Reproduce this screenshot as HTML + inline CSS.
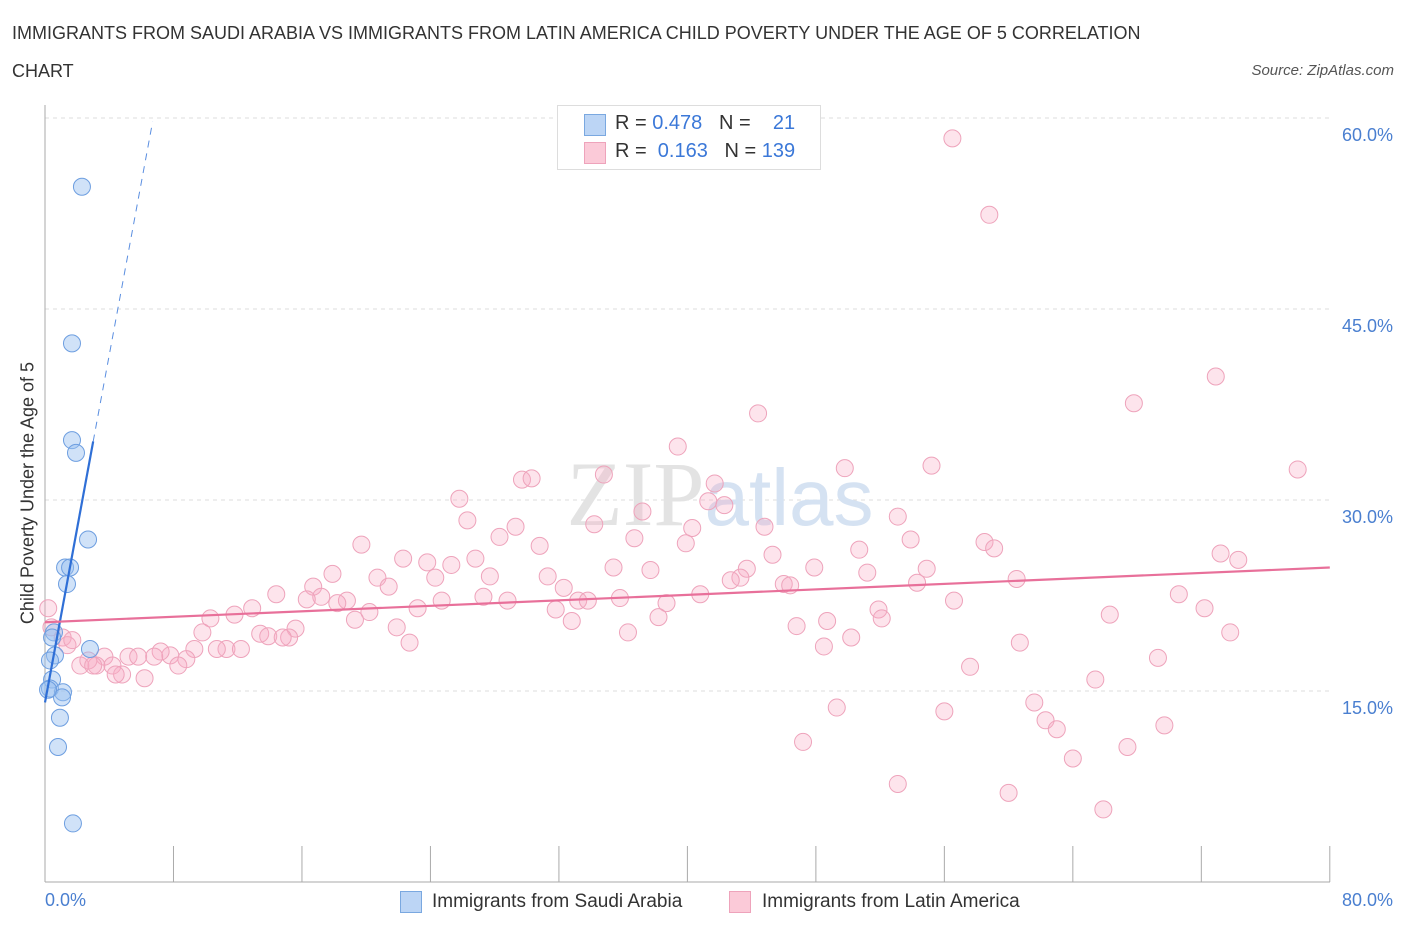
<!DOCTYPE html>
<html><head><meta charset="utf-8"><style>
body{margin:0;background:#fff;font-family:"Liberation Sans",sans-serif;}
#wrap{position:relative;width:1406px;height:930px;overflow:hidden;}
.t{position:absolute;white-space:nowrap;}
</style></head><body>
<div id="wrap">
<div class="t" style="left:12px;top:14px;font-size:18px;color:#333;line-height:38px;">IMMIGRANTS FROM SAUDI ARABIA VS IMMIGRANTS FROM LATIN AMERICA CHILD POVERTY UNDER THE AGE OF 5 CORRELATION<br>CHART</div>
<div class="t" style="right:12px;top:62px;font-size:15px;color:#555;font-style:italic;">Source: ZipAtlas.com</div>
<svg id="svg" width="1406" height="930" style="position:absolute;left:0;top:0;"></svg>
</div>
<script>
const xTicks=[0,8,16,24,32,40,48,56,64,72,80];
const yTicks=[15,30,45,60];
const yTickLabels=["15.0%","30.0%","45.0%","60.0%"];
const blueX=[2.30,1.68,1.68,1.93,2.68,1.25,1.56,1.37,0.56,0.44,0.62,0.31,2.80,0.44,0.31,1.12,1.06,0.93,0.81,1.74,0.19];
const blueY=[54.6,42.3,34.7,33.7,26.9,24.7,24.7,23.4,19.6,19.2,17.8,17.4,18.3,15.9,15.2,14.9,14.5,12.9,10.6,4.6,15.1];
const pinkX=[56.5,58.8,72.9,67.8,44.4,39.4,49.8,55.2,78.0,34.8,29.7,30.3,41.7,25.8,41.3,42.3,37.2,26.3,34.2,29.3,40.3,53.1,44.8,28.3,36.7,39.9,53.9,58.5,59.1,19.7,30.8,50.7,45.3,73.2,74.3,22.3,23.8,26.8,25.3,35.4,37.7,43.7,47.9,51.2,54.9,17.9,27.7,31.3,24.3,20.7,21.4,16.7,43.3,42.7,46.0,46.4,60.5,54.3,32.3,14.4,27.3,35.8,17.2,18.8,16.3,24.7,28.8,33.2,33.8,18.2,40.8,70.6,56.6,12.9,23.2,20.2,31.8,38.7,72.2,10.3,19.3,38.2,51.9,48.7,52.1,66.3,11.8,21.9,32.8,46.8,9.8,13.4,13.9,15.6,15.2,14.8,36.3,50.2,73.8,0.2,1.1,1.4,22.7,11.3,12.2,10.7,9.3,7.8,7.2,5.2,5.8,3.7,8.8,8.3,6.8,60.7,48.5,69.3,57.6,3.2,4.2,2.2,2.7,4.8,4.4,6.2,65.4,61.6,49.3,56.0,62.3,63.0,69.7,47.2,67.4,64.0,53.1,60.0,65.9,0.4,1.7,3.0];
const pinkY=[58.4,52.4,39.7,37.6,36.8,34.2,32.5,32.7,32.4,32.0,31.6,31.7,31.3,30.1,29.9,29.6,29.1,28.4,28.1,27.9,27.8,28.7,27.9,27.1,27.0,26.6,26.9,26.7,26.2,26.5,26.4,26.1,25.7,25.8,25.3,25.4,25.1,25.4,24.9,24.7,24.5,24.6,24.7,24.3,24.6,24.2,24.0,24.0,23.9,23.9,23.2,23.2,23.9,23.7,23.4,23.3,23.8,23.5,23.1,22.6,22.4,22.3,22.4,22.1,22.2,22.1,22.1,22.1,22.1,21.9,22.6,22.6,22.1,21.5,21.5,21.2,21.4,21.9,21.5,20.7,20.6,20.8,21.4,20.5,20.7,21.0,21.0,20.0,20.5,20.1,19.6,19.5,19.3,19.9,19.2,19.2,19.6,19.2,19.6,21.5,19.2,18.6,18.8,18.3,18.3,18.3,18.3,17.8,18.1,17.7,17.7,17.7,17.5,17.0,17.7,18.8,18.5,17.6,16.9,17.0,17.0,17.0,17.4,16.3,16.3,16.0,15.9,14.1,13.7,13.4,12.7,12.0,12.3,11.0,10.6,9.7,7.7,7.0,5.7,20.0,19.0,17.0];
const blueTrend=[[0,14.1],[3.0,34.6],[6.7,59.7]];
const pinkTrend=[[0,20.4],[80,24.7]];
const X=v=>45+v*16.06, Y=v=>882-v*12.733;
const ns="http://www.w3.org/2000/svg", svg=document.getElementById('svg');
function mk(tag,at,parent){const e=document.createElementNS(ns,tag);for(const k in at)e.setAttribute(k,at[k]);(parent||svg).appendChild(e);return e;}
yTicks.forEach((t,i)=>{
 const g=mk('line',{x1:45,x2:1330,y1:Y(t),y2:Y(t),stroke:'#ddd','stroke-dasharray':'4,4'});
 
 
 const l=mk('text',{x:1393,y:Y(t)+23,'text-anchor':'end','font-size':18,fill:'#4a7fd0'});l.textContent=yTickLabels[i];
 
 
});
const ax=mk('line',{x1:45,x2:45,y1:105,y2:882,stroke:'#aaa'});


const bx=mk('line',{x1:45,x2:1330,y1:882,y2:882,stroke:'#aaa'});


xTicks.forEach(t=>{const e=mk('line',{x1:X(t),x2:X(t),y1:846,y2:882,stroke:'#aaa'});
 
 });
const wm=mk('text',{x:720,y:525,'text-anchor':'middle','font-size':92,fill:'#e3e3e3','font-family':'Liberation Serif'});
wm.innerHTML='ZIP<tspan fill="#d5e2f2" font-family="Liberation Sans" font-size="80">atlas</tspan>';


pinkX.forEach((x,i)=>{const c=mk('circle',{cx:X(x),cy:Y(pinkY[i]),r:8.5,fill:'rgba(248,170,195,0.32)',stroke:'#eea3bb','stroke-width':1});
 
 });
blueX.forEach((x,i)=>{const c=mk('circle',{cx:X(x),cy:Y(blueY[i]),r:8.5,fill:'rgba(150,190,240,0.45)',stroke:'#6d9ee0','stroke-width':1});
 
 });
const bl=mk('line',{x1:X(blueTrend[0][0]),y1:Y(blueTrend[0][1]),x2:X(blueTrend[1][0]),y2:Y(blueTrend[1][1]),stroke:'#2f6fd6','stroke-width':2.2});


const bd=mk('line',{x1:X(blueTrend[1][0]),y1:Y(blueTrend[1][1]),x2:X(blueTrend[2][0]),y2:Y(blueTrend[2][1]),stroke:'#5a8ee0','stroke-width':1,'stroke-dasharray':'7,6'});


const pl=mk('line',{x1:X(pinkTrend[0][0]),y1:Y(pinkTrend[0][1]),x2:X(pinkTrend[1][0]),y2:Y(pinkTrend[1][1]),stroke:'#e8709a','stroke-width':2.2});


</script>
<div class="t" style="left:28px;top:493px;font-size:18px;color:#333;transform:translate(-50%,-50%) rotate(-90deg);">Child Poverty Under the Age of 5</div>
<div class="t" style="left:45px;top:890px;font-size:18px;color:#4a7fd0;">0.0%</div>
<div class="t" style="right:13px;top:890px;font-size:18px;color:#4a7fd0;">80.0%</div>
<div style="position:absolute;left:557px;top:105px;width:262px;height:63px;border:1px solid #ddd;background:#fff;font-size:20px;color:#333;">
 <div style="position:absolute;left:26px;top:8px;width:20px;height:20px;background:#bcd5f5;border:1px solid #7aa8e0;"></div>
 <div class="t" style="left:57px;top:6px;">R = <span style="color:#3b78d8">0.478</span>&nbsp;&nbsp;&nbsp;N = &nbsp;&nbsp;&nbsp;<span style="color:#3b78d8">21</span></div>
 <div style="position:absolute;left:26px;top:36px;width:20px;height:20px;background:#fbcad8;border:1px solid #eea3bb;"></div>
 <div class="t" style="left:57px;top:34px;">R = &nbsp;<span style="color:#3b78d8">0.163</span>&nbsp;&nbsp;&nbsp;N = <span style="color:#3b78d8">139</span></div>
</div>
<div style="position:absolute;left:400px;top:891px;font-size:19px;color:#333;">
 <div style="position:absolute;left:0;top:0;width:20px;height:20px;background:#bcd5f5;border:1px solid #7aa8e0;"></div>
 <div class="t" style="left:32px;top:0;">Immigrants from Saudi Arabia</div></div>
<div style="position:absolute;left:729px;top:891px;font-size:19px;color:#333;">
 <div style="position:absolute;left:0;top:0;width:20px;height:20px;background:#fbcad8;border:1px solid #eea3bb;"></div>
 <div class="t" style="left:33px;top:0;">Immigrants from Latin America</div></div>
</body></html>
